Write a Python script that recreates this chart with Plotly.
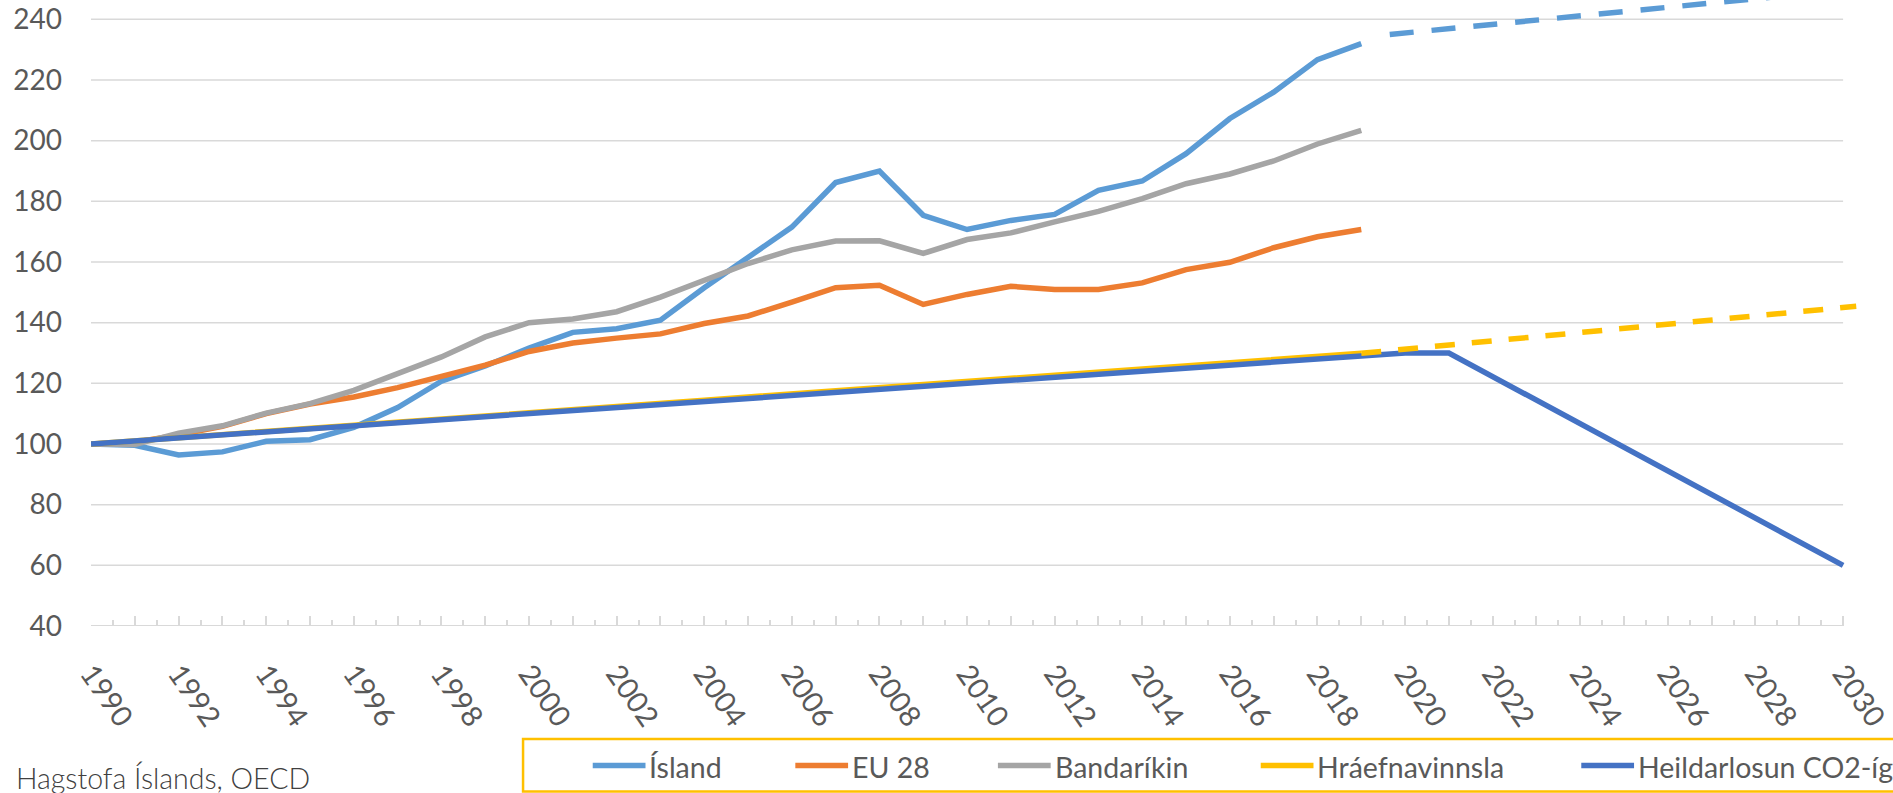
import plotly.graph_objects as go

# ---------------- data ----------------
years_hist = list(range(1990, 2020))
years_all = list(range(1990, 2031))

island = [100, 99.6, 96.4, 97.4, 100.9, 101.4, 105.5, 112.0, 120.7, 125.7,
          131.6, 136.8, 138.0, 140.8, 151.5, 161.6, 171.5, 186.2, 190.0, 175.4,
          170.7, 173.7, 175.7, 183.6, 186.7, 195.7, 207.3, 216.0, 226.7, 232.0]
eu28 = [100, 100.6, 103.0, 105.8, 110.0, 113.2, 115.5, 118.6, 122.3, 126.0,
        130.5, 133.3, 134.9, 136.3, 139.7, 142.2, 146.8, 151.5, 152.3, 146.0,
        149.3, 152.0, 150.9, 150.9, 153.1, 157.5, 159.9, 164.7, 168.3, 170.7]
usa = [100, 99.8, 103.6, 106.0, 110.2, 113.3, 117.7, 123.0, 128.7, 135.3,
       140.0, 141.2, 143.6, 148.4, 153.8, 159.5, 164.0, 166.9, 167.0, 162.8,
       167.4, 169.6, 173.2, 176.7, 180.9, 185.8, 189.0, 193.3, 198.9, 203.4]
hraefni = [100, 101.0, 102.1, 103.1, 104.1, 105.2, 106.2, 107.2, 108.2, 109.3,
           110.3, 111.3, 112.4, 113.4, 114.4, 115.5, 116.5, 117.5, 118.5, 119.6,
           120.6, 121.6, 122.7, 123.7, 124.7, 125.8, 126.8, 127.8, 128.8, 129.9]
heild = [100, 101, 102, 103, 104, 105, 106, 107, 108, 109,
         110, 111, 112, 113, 114, 115, 116, 117, 118, 119,
         120, 121, 122, 123, 124, 125, 126, 127, 128, 129,
         130, 130, 122.2, 114.4, 106.7, 98.9, 91.1, 83.3, 75.6, 67.8, 60]

island_fc_years = [2019.65, 2030]
island_fc = [235.0, 249.6]
hraefni_fc_years = [2019, 2030.3]
hraefni_fc = [129.9, 145.4]

series_names = ["Ísland", "EU 28", "Bandaríkin", "Hráefnavinnsla", "Heildarlosun CO2-ígilda"]
series_colors = ["#5B9BD5", "#ED7D31", "#A5A5A5", "#FFC000", "#4472C4"]

y_ticks = [40, 60, 80, 100, 120, 140, 160, 180, 200, 220, 240]
x_ticktext = [str(y) if y % 2 == 0 else "" for y in years_all]
source_text = "Hagstofa Íslands, OECD"

# ---------------- layout geometry ----------------
W, H = 1893, 793
L, R, T, B = 91, 20, 0, 167
PW = W - L - R
PH = H - T - B
Y_PX_PER_UNIT = 606.7 / 200.0
y_top = 40 + PH / Y_PX_PER_UNIT


def px(xp):
    return (xp - L) / PW


def py(yp):
    return (H - B - yp) / PH


FONT = "Lato"
GRID = "#D9D9D9"
TXT = "#595959"
LW = 5.5

fig = go.Figure()
hist_series = [island, eu28, usa, hraefni]
for name, col, vals in zip(series_names[:4], series_colors[:4], hist_series):
    fig.add_trace(go.Scatter(x=years_hist, y=vals, name=name, mode="lines",
                             line=dict(color=col, width=LW), showlegend=False))
fig.add_trace(go.Scatter(x=years_all, y=heild, name=series_names[4], mode="lines",
                         line=dict(color=series_colors[4], width=LW), showlegend=False))
fig.add_trace(go.Scatter(x=island_fc_years, y=island_fc, mode="lines",
                         line=dict(color=series_colors[0], width=LW, dash="24px,18px"),
                         showlegend=False, name=series_names[0]))
fig.add_trace(go.Scatter(x=hraefni_fc_years, y=hraefni_fc, mode="lines",
                         line=dict(color=series_colors[3], width=LW, dash="20px,17px"),
                         showlegend=False, name=series_names[3]))

shapes = []
for v in y_ticks:
    shapes.append(dict(type="line", xref="x", yref="y", x0=years_all[0], x1=years_all[-1],
                       y0=v, y1=v, layer="below",
                       line=dict(color=GRID, width=1.8 if v == y_ticks[0] else 1.5)))

annotations = []
# manual legend
leg_line_x = [595, 798.5, 1002, 1266, 1588]
leg_y = 765.5
for name, col, lx in zip(series_names, series_colors, leg_line_x):
    shapes.append(dict(type="line", xref="paper", yref="paper",
                       x0=px(lx), x1=px(lx + 53), y0=py(leg_y), y1=py(leg_y),
                       line=dict(color=col, width=5.5)))
    annotations.append(dict(xref="paper", yref="paper", x=px(lx + 55), y=py(leg_y + 1),
                            xanchor="left", yanchor="middle", text=name, showarrow=False,
                            font=dict(family=FONT, size=28.5, color=TXT)))
shapes.append(dict(type="rect", xref="paper", yref="paper",
                   x0=px(525), x1=px(1910), y0=py(739), y1=py(791.5),
                   line=dict(color="#FFC000", width=2.5)))

annotations.append(dict(xref="paper", yref="paper", x=px(14), y=py(778),
                        xanchor="left", yanchor="middle", text=source_text, showarrow=False,
                        font=dict(family=FONT, size=28.5, color="#404040", weight=300)))

half_years = [y + 0.5 for y in years_all[:-1]]

fig.update_layout(
    width=W, height=H,
    margin=dict(l=L, r=R, t=T, b=B, pad=0),
    paper_bgcolor="white", plot_bgcolor="white",
    font=dict(family=FONT, color=TXT),
    shapes=shapes, annotations=annotations,
    xaxis=dict(range=[1990, 2030.5], tickmode="array", tickvals=years_all, ticktext=x_ticktext,
               ticks="inside", ticklen=10, tickwidth=1.5, tickcolor=GRID,
               showgrid=False, showline=False, zeroline=False, tickangle=55,
               tickfont=dict(family=FONT, size=29, color=TXT), ticklabelstandoff=24,
               ticklabeloverflow="allow",
               minor=dict(tickmode="array", tickvals=half_years, ticks="inside",
                          ticklen=6, tickwidth=1.5, tickcolor=GRID, showgrid=False)),
    yaxis=dict(range=[40, y_top], tickmode="array", tickvals=y_ticks,
               ticks="", showgrid=False, showline=False, zeroline=False,
               tickfont=dict(family=FONT, size=28, color=TXT), ticklabelstandoff=28),
)

fig.write_html("out.html", config={"displayModeBar": False},
               post_script="document.body.style.margin='0px';")
